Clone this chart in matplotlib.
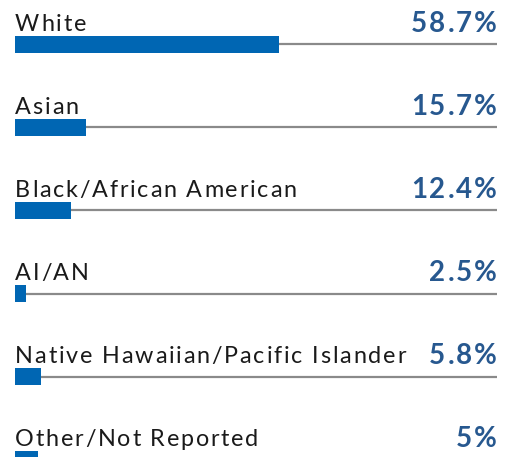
import matplotlib
matplotlib.use("Agg")
import matplotlib.pyplot as plt
from matplotlib import transforms
from matplotlib.font_manager import FontProperties

categories = ["White", "Asian", "Black/African American", "AI/AN",
              "Native Hawaiian/Pacific Islander", "Other/Not Reported"]
values = [58.7, 15.7, 12.4, 2.5, 5.8, 5]
value_labels = ["58.7%", "15.7%", "12.4%", "2.5%", "5.8%", "5%"]

W, H = 505, 457
fig = plt.figure(figsize=(W / 100, H / 100), dpi=100)
ax = fig.add_axes([0, 0, 1, 1])
ax.axis("off")
renderer = fig.canvas.get_renderer()

px_per_unit = 4.5
x0_px, x1_px = 15, 497
xmax = (x1_px - x0_px) / px_per_unit
ax.set_xlim(-x0_px / px_per_unit, (W - x0_px) / px_per_unit)

row0, step = 44.5, 83
ax.set_ylim((H - row0) / step, -row0 / step)


def width_px(s, fp):
    if not s:
        return 0.0
    w_bar = renderer.get_text_width_height_descent("|", fp, ismath=False)[0]
    return renderer.get_text_width_height_descent(s + "|", fp, ismath=False)[0] - w_bar


def tracked_text(x, y, s, fp, track, ha, color):
    adv = [width_px(s[:k], fp) for k in range(len(s) + 1)]
    total = renderer.get_text_width_height_descent(s, fp, ismath=False)[0] + track * (len(s) - 1)
    start = 0.0 if ha == "left" else -total
    for k, ch in enumerate(s):
        if ch == " ":
            continue
        dx = start + adv[k] + k * track
        tr = transforms.offset_copy(ax.transData, fig=fig, x=dx, y=0, units="dots")
        ax.text(x, y, ch, transform=tr, ha="left", va="baseline",
                fontproperties=fp, color=color)


fp_lab = FontProperties(family="Lato", size=16.8)
fp_val = FontProperties(family="Lato", size=20, weight="bold")

bar_color = "#0066b3"
val_color = "#27588f"
for i, (cat, v, lab) in enumerate(zip(categories, values, value_labels)):
    ax.plot([0, xmax], [i, i], color="#8a8a8a", lw=1.6, solid_capstyle="butt", zorder=1)
    ax.barh(i, v, height=17 / step, left=0, color=bar_color, zorder=2)
    tracked_text(0, i - 13.5 / step, cat, fp_lab, 1.8, "left", "#1a1a1a")
    tracked_text(xmax, i - 12.2 / step, lab, fp_val, 2.0, "right", val_color)

fig.savefig("out.png", dpi=100)
